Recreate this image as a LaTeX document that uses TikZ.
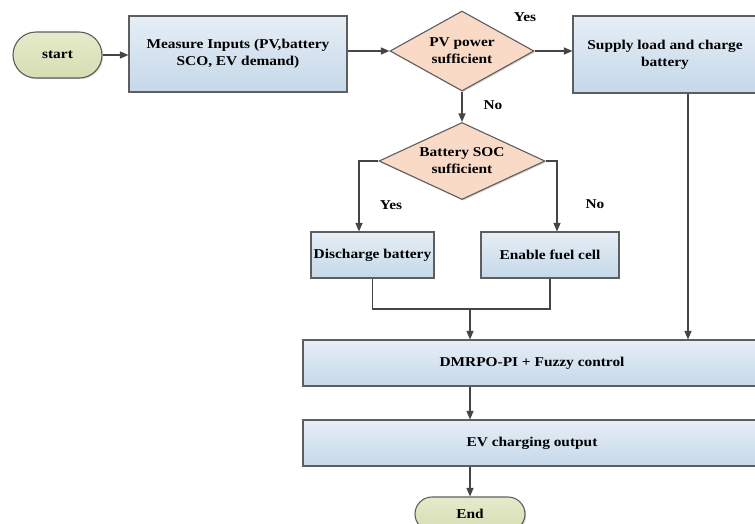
\documentclass[tikz,border=0pt]{standalone}
\usepackage{fontspec}
\setmainfont[FakeStretch=1.14]{Liberation Serif}
\usetikzlibrary{shapes.geometric,shapes.misc,arrows.meta,shadows}

\definecolor{boxtop}{HTML}{E6EEF6}
\definecolor{boxbot}{HTML}{C5D8E9}
\definecolor{decfill}{HTML}{F8DAC6}
\definecolor{termtop}{HTML}{E6EACB}
\definecolor{termbot}{HTML}{D6DDB2}
\definecolor{edge}{HTML}{5E5E5E}
\definecolor{wire}{HTML}{454545}

\tikzset{
  base/.style={draw=edge, line width=1.1pt, font=\bfseries\fontsize{13.5}{17}\selectfont,
    align=center, inner sep=2pt,
    drop shadow={shadow xshift=1.2pt, shadow yshift=-1.2pt, opacity=.25, fill=black!70}},
  procbox/.style={base, rectangle, top color=boxtop, bottom color=boxbot},
  decision/.style={base, diamond, fill=decfill, inner sep=0pt},
  terminal/.style={base, rounded rectangle, top color=termtop, bottom color=termbot},
  flow/.style={draw=wire, line width=1.2pt, -{Triangle[length=8.5pt,width=7pt]}},
  wireline/.style={draw=wire, line width=1.2pt},
  tag/.style={font=\bfseries\fontsize{13.5}{16}\selectfont}
}

\begin{document}
\begin{tikzpicture}[x=1pt,y=1pt]
  \path[use as bounding box, clip] (0,0) rectangle (755,-523);

  % nodes
  \node[terminal, minimum width=93pt, minimum height=46pt] (start) at (57.5,-55) {start};
  \node[procbox, minimum width=218pt, minimum height=76pt] (meas) at (238,-54)
    {Measure Inputs (PV,battery\\SCO, EV demand)};
  \node[decision, shape aspect=1.8, minimum width=144pt, minimum height=80pt] (pv) at (462,-51)
    {PV power\\sufficient};
  \node[procbox, minimum width=184pt, minimum height=77pt] (supply) at (665,-54.5)
    {Supply load and charge\\battery};
  \node[decision, shape aspect=2.15, minimum width=166pt, minimum height=77pt] (soc) at (462,-161)
    {Battery SOC\\sufficient};
  \node[procbox, minimum width=123pt, minimum height=46pt] (dis) at (372.5,-255)
    {Discharge battery};
  \node[procbox, minimum width=138pt, minimum height=46pt] (fc) at (550,-255)
    {Enable fuel cell};
  \node[procbox, minimum width=458pt, minimum height=46pt] (ctrl) at (532,-363)
    {DMRPO-PI + Fuzzy control};
  \node[procbox, minimum width=458pt, minimum height=46pt] (out) at (532,-443)
    {EV charging output};
  \node[terminal, minimum width=114pt, minimum height=34pt] (end) at (470,-514) {End};

  % branch labels
  \node[tag] (ylab1) at (525,-17) {Yes};
  \node[tag] (nlab1) at (493,-105) {No};
  \node[tag] (ylab2) at (391,-205) {Yes};
  \node[tag] (nlab2) at (595,-204) {No};

  % helper points for the elbow connectors
  \coordinate (bl) at (359,-161);
  \coordinate (br) at (557,-161);
  \coordinate (mg) at (470,-309);
  \coordinate (sr) at (688,-93);

  % connectors
  \draw[flow] (start.east) -- (meas.west |- start.east);
  \draw[flow] (meas.east |- pv.west) -- (pv.west);
  \draw[flow] (pv.east) -- (supply.west |- pv.east);
  \draw[flow] (pv.south) -- (soc.north);
  \draw[flow] (soc.west) -- (bl) -- (bl |- dis.north);
  \draw[flow] (soc.east) -- (br) -- (br |- fc.north);
  \draw[wireline] (dis.south) -- (dis.south |- mg) -- (fc.south |- mg) -- (fc.south);
  \draw[flow] (mg) -- (mg |- ctrl.north);
  \draw[flow] (sr |- supply.south) -- (sr |- ctrl.north);
  \draw[flow] (mg |- ctrl.south) -- (mg |- out.north);
  \draw[flow] (end.north |- out.south) -- (end.north);
\end{tikzpicture}
\end{document}
